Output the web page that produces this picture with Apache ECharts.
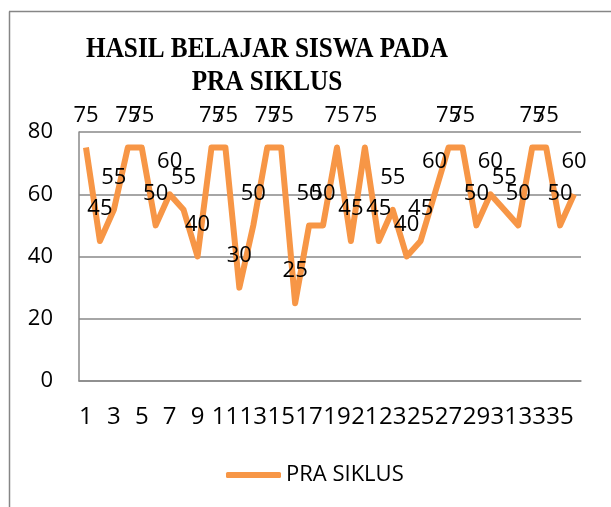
<!DOCTYPE html>
<html>
<head>
<meta charset="utf-8">
<script src="https://cdn.jsdelivr.net/npm/echarts@6/dist/echarts.min.js"></script>
<style>html,body{margin:0;padding:0;background:#fff}#c{width:611px;height:507px}</style>
</head>
<body>
<div id="c"></div>
<script>
const titleLines = ['HASIL BELAJAR SISWA PADA', 'PRA SIKLUS'];
const seriesName = 'PRA SIKLUS';
const categories = [];
for (let i = 1; i <= 36; i++) categories.push(String(i));
const values = [75, 45, 55, 75, 75, 50, 60, 55, 40, 75, 75, 30, 50, 75, 75, 25, 50, 50, 75, 45, 75, 45, 55, 40, 45, 60, 75, 75, 50, 60, 55, 50, 75, 75, 50, 60];
const yTicks = { min: 0, max: 80, interval: 20 };

const chart = echarts.init(document.getElementById('c'), null, { renderer: 'canvas' });
const font = 'Open Sans';
chart.setOption({
  animation: false,
  backgroundColor: '#fff',
  graphic: [
    { type: 'line', shape: { x1: 9.5, y1: 11.5, x2: 9.5, y2: 507 }, style: { stroke: '#868686', lineWidth: 1.5 } },
    { type: 'line', shape: { x1: 9, y1: 11.5, x2: 611, y2: 11.5 }, style: { stroke: '#868686', lineWidth: 1.5 } },
    { type: 'text', x: 267, y: 50, scaleX: 0.87, style: { text: titleLines[0], font: 'bold 29px "Liberation Serif"', fill: '#000', textAlign: 'center', textVerticalAlign: 'middle' } },
    { type: 'text', x: 267, y: 83, scaleX: 0.87, style: { text: titleLines[1], font: 'bold 29px "Liberation Serif"', fill: '#000', textAlign: 'center', textVerticalAlign: 'middle' } }
  ],
  legend: {
    data: [seriesName],
    left: 221,
    top: 459,
    icon: 'roundRect',
    itemWidth: 55,
    itemHeight: 6,
    itemGap: 5,
    textStyle: { fontFamily: font, fontSize: 22, color: '#000' }
  },
  grid: { left: 79, right: 30, top: 132, bottom: 126 },
  xAxis: {
    type: 'category',
    data: categories,
    boundaryGap: true,
    axisLine: { show: true, lineStyle: { color: '#898989', width: 1.5 } },
    axisTick: { show: false },
    axisLabel: { interval: 1, margin: 24, fontFamily: font, fontSize: 24, color: '#000' }
  },
  yAxis: {
    type: 'value',
    min: yTicks.min, max: yTicks.max, interval: yTicks.interval,
    axisLine: { show: true, lineStyle: { color: '#898989', width: 1.5 } },
    axisTick: { show: false },
    splitLine: { show: true, lineStyle: { color: '#898989', width: 1.5 } },
    axisLabel: { margin: 26, fontFamily: font, fontSize: 22, color: '#000' }
  },
  series: [{
    name: seriesName,
    type: 'line',
    data: values,
    symbol: 'circle',
    symbolSize: 0.1,
    showSymbol: true,
    lineStyle: { color: '#F79646', width: 6, join: 'round' },
    itemStyle: { color: '#F79646' },
    label: { show: true, position: 'top', distance: 21, fontFamily: font, fontSize: 22, color: '#000' }
  }]
});
</script>
</body>
</html>
